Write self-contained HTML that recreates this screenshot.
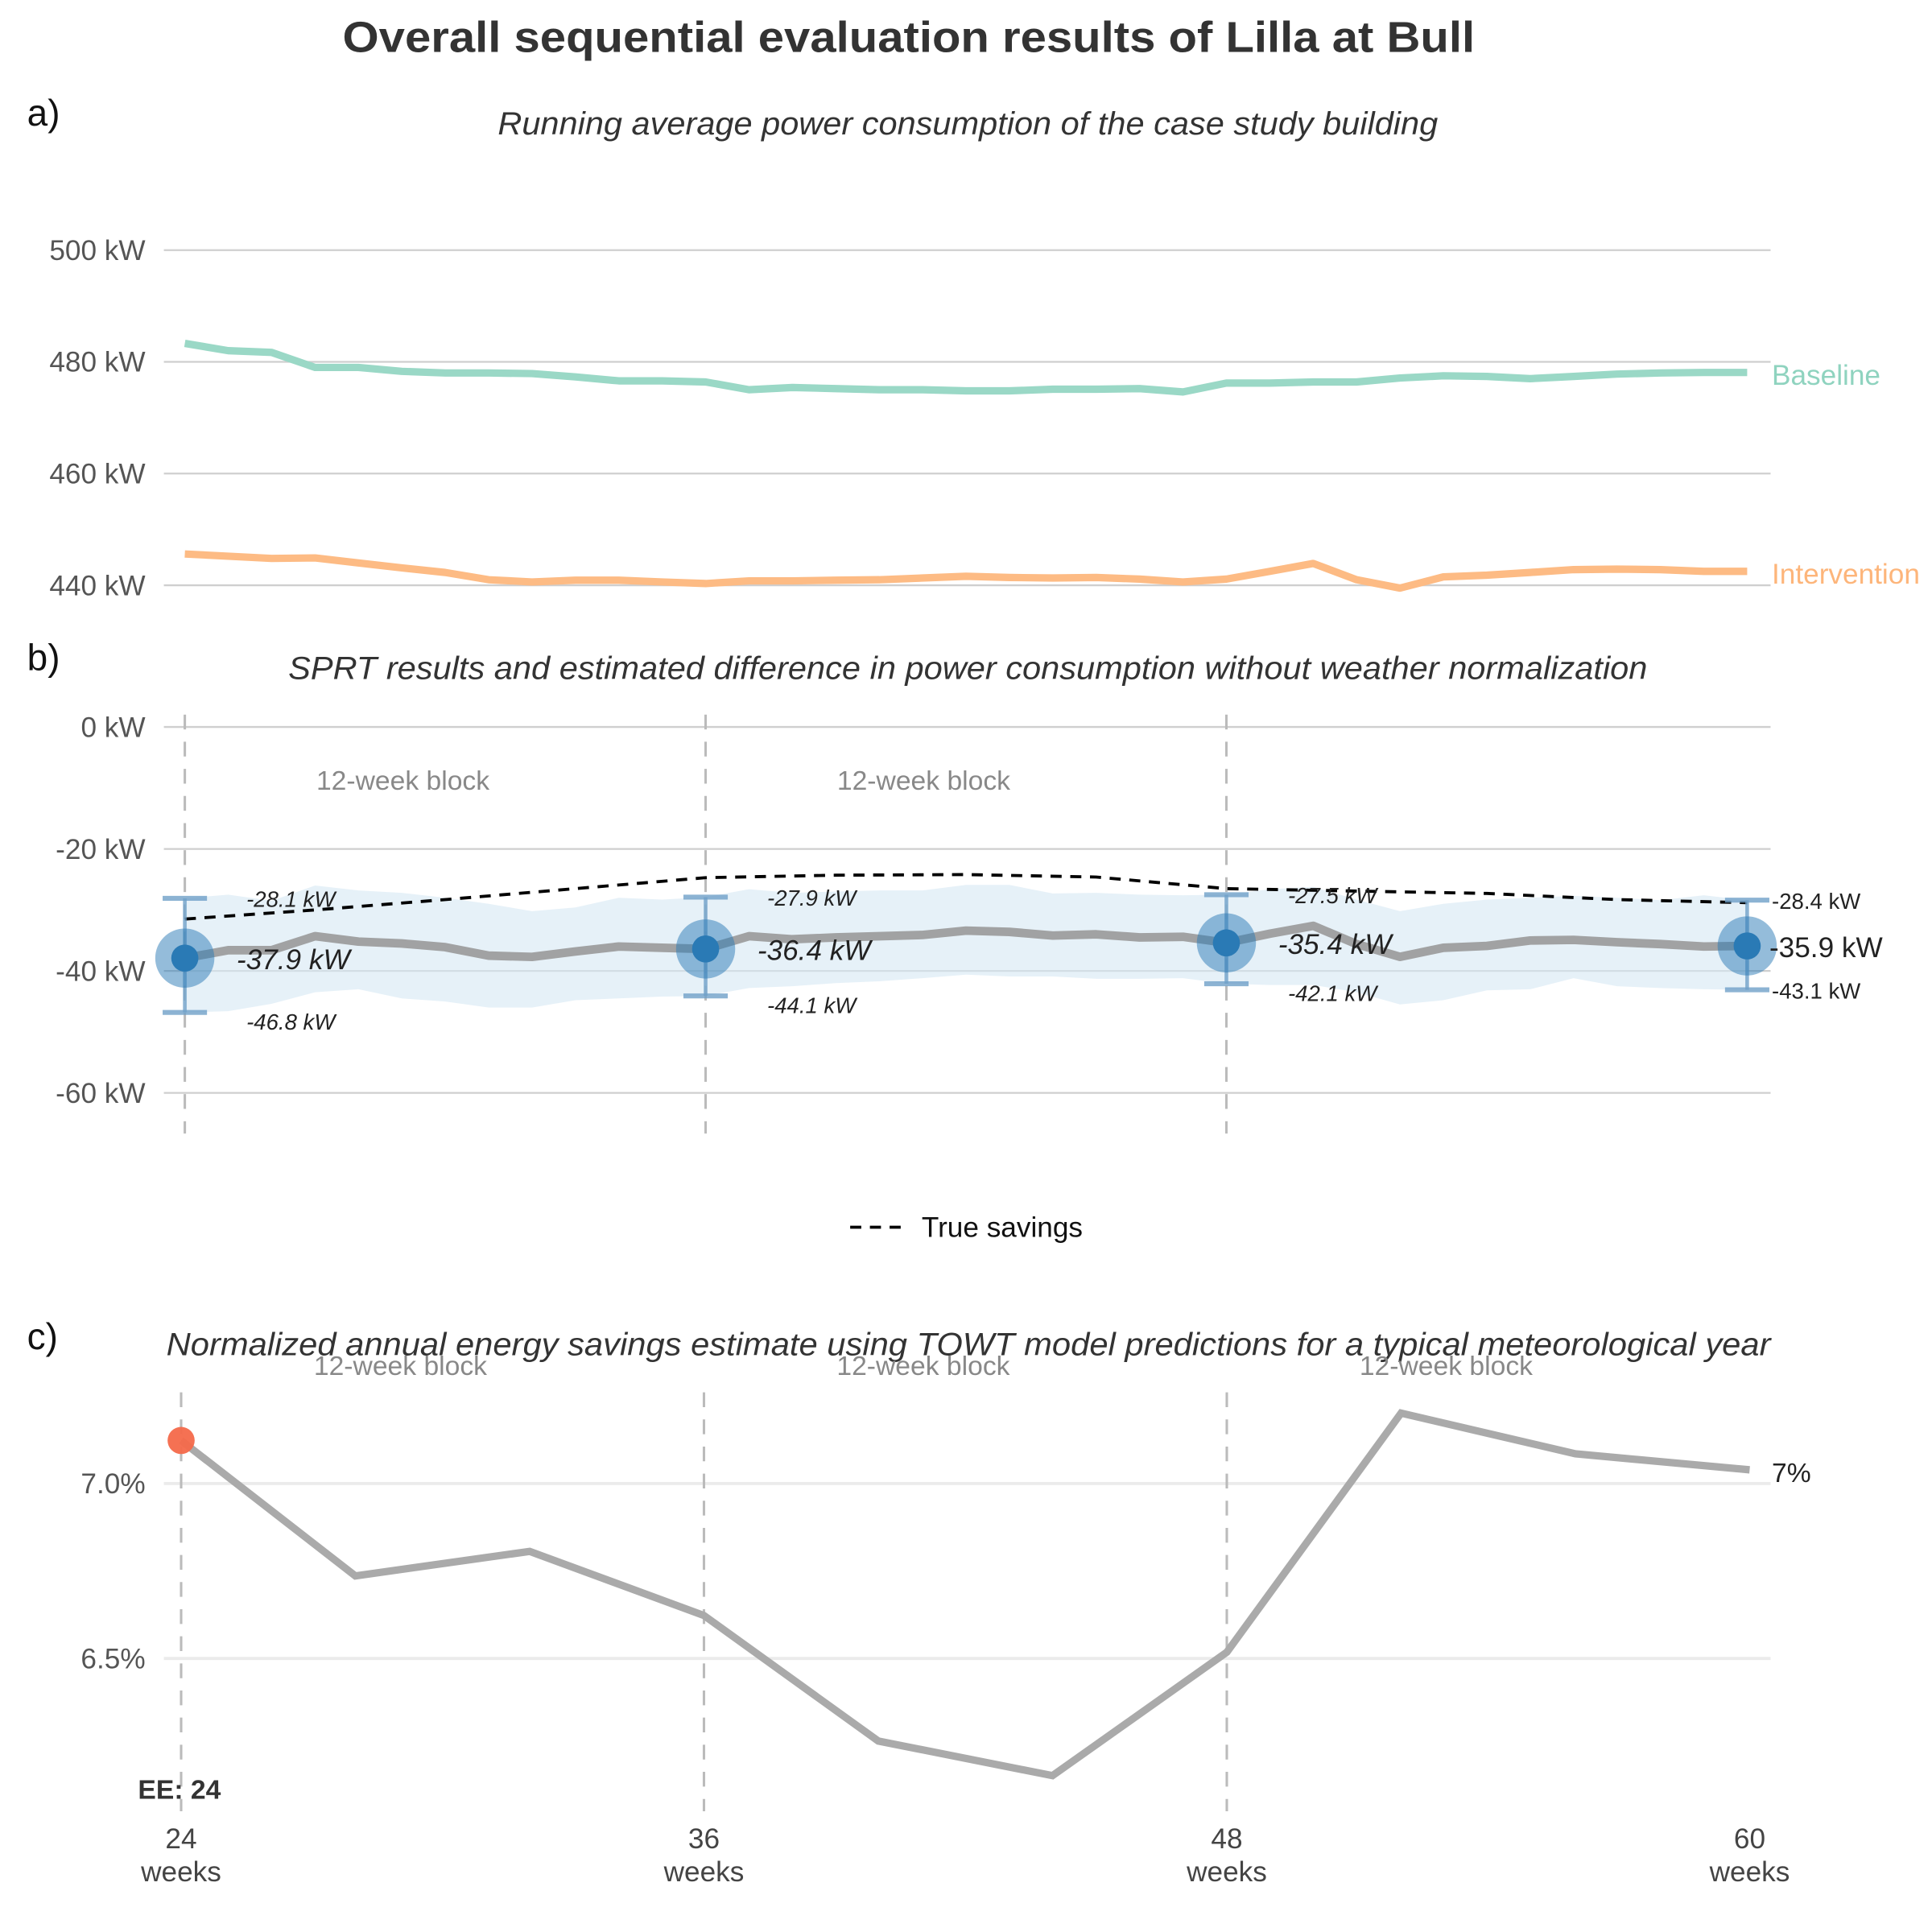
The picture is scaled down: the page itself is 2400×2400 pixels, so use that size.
<!DOCTYPE html>
<html><head><meta charset="utf-8">
<style>
html,body{margin:0;padding:0;background:#fff;}
svg{display:block;}
text{font-family:"Liberation Sans",Arial,sans-serif;}
</style></head>
<body>
<svg id="chart" width="2400" height="2400" viewBox="0 0 1568 1568" xmlns="http://www.w3.org/2000/svg">
<text x="278" y="42" font-size="35" font-weight="bold" fill="#333" textLength="919" lengthAdjust="spacingAndGlyphs">Overall sequential evaluation results of Lilla at Bull</text>
<text x="22" y="102" font-size="30" fill="#111">a)</text>
<text x="404" y="109" font-size="26" font-style="italic" fill="#333" textLength="763" lengthAdjust="spacingAndGlyphs">Running average power consumption of the case study building</text>
<text x="22" y="544" font-size="30" fill="#111">b)</text>
<text x="234" y="551" font-size="26" font-style="italic" fill="#333" textLength="1103" lengthAdjust="spacingAndGlyphs">SPRT results and estimated difference in power consumption without weather normalization</text>
<text x="22" y="1095" font-size="30" fill="#111">c)</text>
<text x="135" y="1100" font-size="26" font-style="italic" fill="#333" textLength="1302" lengthAdjust="spacingAndGlyphs">Normalized annual energy savings estimate using TOWT model predictions for a typical meteorological year</text>
<g id="pa"></g>
<g id="pb"></g>
<g id="pc"></g>
<g>
<line x1="690" y1="996" x2="732" y2="996" stroke="#000" stroke-width="2.5" stroke-dasharray="9,7"/>
<text x="748" y="1004" font-size="23" fill="#111">True savings</text>
</g>
</svg>
<script>
// ---------- data ----------
const weeksA = Array.from({length:37},(_,i)=>24+i);
const baseline = [483.3,482,481.7,479,479,478.3,478,478,477.9,477.3,476.6,476.6,476.4,475,475.4,475.2,475,475,474.8,474.8,475.1,475.1,475.2,474.6,476.2,476.2,476.4,476.4,477.1,477.5,477.4,477,477.4,477.8,478,478.1,478.1];
const intervention = [445.6,445.2,444.8,444.9,444,443.1,442.3,441,440.6,440.9,440.9,440.6,440.3,440.8,440.8,440.9,441,441.3,441.6,441.4,441.3,441.4,441.1,440.6,441.1,442.5,443.9,441,439.5,441.5,441.8,442.3,442.8,442.9,442.8,442.5,442.5];
const ticksA = [500,480,460,440];
const estimate = [-37.9,-36.6,-36.6,-34.3,-35.2,-35.5,-36.1,-37.5,-37.7,-36.8,-36,-36.2,-36.4,-34.3,-34.8,-34.5,-34.3,-34.1,-33.4,-33.6,-34.2,-34,-34.5,-34.4,-35.4,-33.9,-32.6,-35.6,-37.7,-36.2,-35.9,-35,-34.9,-35.3,-35.6,-36,-35.9];
const upperB = [-28.1,-27.5,-28.5,-26,-26.8,-27.2,-28,-29,-30.2,-29.6,-28,-28.3,-27.9,-26.6,-27.2,-27,-26.8,-26.8,-25.9,-25.9,-27.3,-27.2,-27.5,-27.6,-27.5,-26.6,-26.2,-28.3,-30.2,-29,-28.3,-28,-27.7,-28,-28.4,-27.6,-28.4];
const lowerB = [-46.8,-46.6,-45.4,-43.5,-43,-44.5,-45,-46,-46,-44.8,-44.5,-44.2,-44.1,-42.8,-42.5,-42,-41.7,-41.2,-40.6,-40.9,-40.9,-41.3,-41.3,-41.2,-42.1,-42.3,-42.3,-43.5,-45.5,-44.8,-43.2,-43,-41.2,-42.5,-42.8,-43,-43.1];
const trueWeeks = [24,27,30,33,36,39,42,45,48,51,54,57,60];
const trueSavings = [-31.5,-30,-28.3,-26.5,-24.7,-24.3,-24.2,-24.6,-26.5,-26.9,-27.3,-28.3,-28.8];
const checkWeeks = [24,36,48,60];
const checkEst = [-37.9,-36.4,-35.4,-35.9];
const checkUpper = [-28.1,-27.9,-27.5,-28.4];
const checkLower = [-46.8,-44.1,-42.1,-43.1];
const ticksB = [0,-20,-40,-60];
const weeksC = [24,28,32,36,40,44,48,52,56,60];
const savingsC = [7.123,6.736,6.806,6.623,6.264,6.165,6.518,7.201,7.085,7.039];
const ticksC = [7.0,6.5];
const xTicks = [24,36,48,60];

const NS="http://www.w3.org/2000/svg";
function mk(parent,tag,attrs,txt){const e=document.createElementNS(NS,tag);for(const k in attrs)e.setAttribute(k,attrs[k]);if(txt!=null)e.textContent=txt;parent.appendChild(e);return e;}
const xAB = w => 150 + (w-24)*(1418-150)/36;
const xC = w => 147 + (w-24)*(1420-147)/36;
const yA = v => 203 + (500-v)*(475-203)/60;
const yB = v => 590 + (0-v)*(887-590)/60;
const yC = v => 1204 + (7.0-v)*(1346-1204)/0.5;

// ---------- panel a ----------
const pa=document.getElementById('pa');
ticksA.forEach(t=>{
 let g=mk(pa,'line',{x1:133,x2:1437,y1:yA(t),y2:yA(t),stroke:'#cfcfcf','stroke-width':1.5});
 
 
 let l=mk(pa,'text',{x:118,y:yA(t)+8,'text-anchor':'end','font-size':23,fill:'#555'},t+' kW');
 
 
});
function poly(arr,xs,xf,yf){return arr.map((v,i)=>xf(xs[i]).toFixed(1)+','+yf(v).toFixed(1)).join(' ');}
let bl=mk(pa,'polyline',{points:poly(baseline,weeksA,xAB,yA),fill:'none',stroke:'#9ad8c6','stroke-width':6,'stroke-linejoin':'round'});


let il=mk(pa,'polyline',{points:poly(intervention,weeksA,xAB,yA),fill:'none',stroke:'#fdbb84','stroke-width':6,'stroke-linejoin':'round'});


let blb=mk(pa,'text',{x:1438,y:yA(baseline[baseline.length-1])+10,'font-size':23,fill:'#8fd3bf'},'Baseline');


let ilb=mk(pa,'text',{x:1438,y:yA(intervention[intervention.length-1])+10,'font-size':23,fill:'#fdb57a'},'Intervention');



// ---------- panel b ----------
const pb=document.getElementById('pb');
ticksB.forEach(t=>{
 let g=mk(pb,'line',{x1:133,x2:1437,y1:yB(t),y2:yB(t),stroke:'#cfcfcf','stroke-width':1.5});
 
 
 let l=mk(pb,'text',{x:118,y:yB(t)+8,'text-anchor':'end','font-size':23,fill:'#555'},t+' kW');
 
 
});
checkWeeks.slice(0,3).forEach(w=>{
 let v=mk(pb,'line',{x1:xAB(w),x2:xAB(w),y1:580,y2:920,stroke:'#bbb','stroke-width':2,'stroke-dasharray':'12,10'});
 
 
});
[24,36].forEach(w=>{
 let t=mk(pb,'text',{x:xAB(w)+177,y:641,'text-anchor':'middle','font-size':22,fill:'#888'},'12-week block');
 
 
});
let ribPts=upperB.map((v,i)=>xAB(weeksA[i]).toFixed(1)+','+yB(v).toFixed(1));
for(let i=lowerB.length-1;i>=0;i--) ribPts.push(xAB(weeksA[i]).toFixed(1)+','+yB(lowerB[i]).toFixed(1));
let rib=mk(pb,'polygon',{points:ribPts.join(' '),fill:'#d6e7f4','fill-opacity':0.6});


let el=mk(pb,'polyline',{points:poly(estimate,weeksA,xAB,yB),fill:'none',stroke:'#999','stroke-width':7,'stroke-linejoin':'round','stroke-opacity':0.9});


let tl=mk(pb,'polyline',{points:poly(trueSavings,trueWeeks,xAB,yB),fill:'none',stroke:'#000','stroke-width':2.5,'stroke-dasharray':'9,7'});


checkWeeks.forEach((w,i)=>{
 const x=xAB(w), last=i===checkWeeks.length-1;
 let eb=mk(pb,'line',{x1:x,x2:x,y1:yB(checkUpper[i]),y2:yB(checkLower[i]),stroke:'#6fa0c8','stroke-width':3,'stroke-opacity':0.8});
 
 
 [checkUpper[i],checkLower[i]].forEach(v=>{
  let c=mk(pb,'line',{x1:x-18,x2:x+18,y1:yB(v),y2:yB(v),stroke:'#6fa0c8','stroke-width':4,'stroke-opacity':0.8});
  
  
 });
 let o=mk(pb,'circle',{cx:x,cy:yB(checkEst[i]),r:24,fill:'#2a7ab5','fill-opacity':0.5});
 
 
 let d=mk(pb,'circle',{cx:x,cy:yB(checkEst[i]),r:11,fill:'#2a7ab5'});
 
 
 const lx= last? x+20 : x+50;
 const style = last? 'normal':'italic';
 let ul=mk(pb,'text',{x:lx,y:yB(checkUpper[i])+7,'font-size':18,'font-style':style,fill:'#222'},checkUpper[i].toFixed(1)+' kW');
 
 
 let ll=mk(pb,'text',{x:lx,y:yB(checkLower[i])+(last?7:14),'font-size':18,'font-style':style,fill:'#222'},checkLower[i].toFixed(1)+' kW');
 
 
 let el2=mk(pb,'text',{x:last? x+18 : x+42,y:yB(checkEst[i])+9,'font-size':23,'font-style':style,fill:'#222'},checkEst[i].toFixed(1)+' kW');
 
 
});

// ---------- panel c ----------
const pc=document.getElementById('pc');
ticksC.forEach(t=>{
 let g=mk(pc,'line',{x1:133,x2:1437,y1:yC(t),y2:yC(t),stroke:'#ebebeb','stroke-width':2.5});
 
 
 let l=mk(pc,'text',{x:118,y:yC(t)+8,'text-anchor':'end','font-size':23,fill:'#555'},t.toFixed(1)+'%');
 
 
});
xTicks.slice(0,3).forEach(w=>{
 let v=mk(pc,'line',{x1:xC(w),x2:xC(w),y1:1130,y2:1470,stroke:'#bbb','stroke-width':2,'stroke-dasharray':'12,10'});
 
 
});
[24,36,48].forEach(w=>{
 let t=mk(pc,'text',{x:xC(w)+178,y:1116,'text-anchor':'middle','font-size':22,fill:'#888'},'12-week block');
 
 
});
let sl=mk(pc,'polyline',{points:poly(savingsC,weeksC,xC,yC),fill:'none',stroke:'#aaa','stroke-width':6,'stroke-linejoin':'miter'});


let rd=mk(pc,'circle',{cx:xC(weeksC[0]),cy:yC(savingsC[0]),r:11,fill:'#f4694a','fill-opacity':0.95});


let pl=mk(pc,'text',{x:1438,y:yC(savingsC[savingsC.length-1])+10,'font-size':22,fill:'#222'},Math.round(savingsC[savingsC.length-1])+'%');


let ee=mk(pc,'text',{x:112,y:1460,'font-size':22,'font-weight':'bold',fill:'#333'},'EE: 24');


xTicks.forEach(w=>{
 let a=mk(pc,'text',{x:xC(w),y:1500,'text-anchor':'middle','font-size':23,fill:'#444'},String(w));
 
 
 let b=mk(pc,'text',{x:xC(w),y:1527,'text-anchor':'middle','font-size':23,fill:'#444'},'weeks');
 
 
});
</script>
</body></html>
